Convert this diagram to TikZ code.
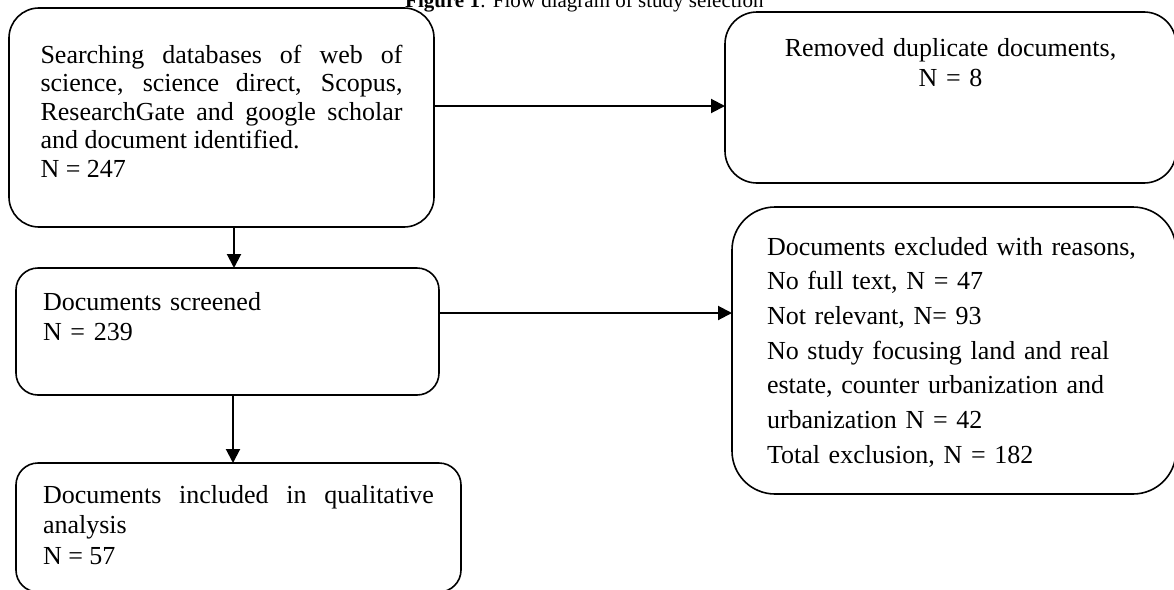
\documentclass[tikz,border=0pt]{standalone}
\usepackage{fontspec}
\setmainfont{Liberation Serif}
\usetikzlibrary{arrows.meta}
\newcommand{\boxfont}[1]{\fontsize{26}{#1}\selectfont\sloppy\hyphenpenalty=10000\relax}

\begin{document}
\begin{tikzpicture}[x=1pt, y=-1pt]
                \useasboundingbox (0,0) rectangle (1174,589);
                \node [anchor=base west, inner sep=0pt, font=\fontsize{21}{24}\selectfont] (T) at (405,7) {\textbf{Figure 1}: Flow diagram of study selection};
                \begin{scope}[every node/.style={draw, line width=1.6pt, anchor=north west, outer sep=0pt, inner ysep=0pt, font=\boxfont{30}}]
                        \node [rounded corners=30pt, inner xsep=31.5pt, text width=362pt, text height=55pt, text depth=164pt, align=justify, font=\boxfont{28.5}] (I) at (9,8) {Searching databases of web of science, science direct, Scopus, ResearchGate and google scholar and document identified.\\ N = 247};
                        \node [rounded corners=32pt, inner xsep=30pt, text width=391pt, text height=44pt, text depth=127pt, align=center] (D) at (725,12) {Removed duplicate documents,\\ N = 8};
                        \node [rounded corners=22pt, inner xsep=27pt, text width=369pt, text height=42pt, text depth=85pt, align=left] (S) at (16,268) {Documents screened\\ N = 239};
                        \node [rounded corners=43pt, inner xsep=35pt, text width=374pt, text height=48pt, text depth=239pt, align=left, font=\boxfont{34.7}] (X) at (732,207) {Documents excluded with reasons,\\ No full text, N = 47\\ Not relevant, N= 93\\ No study focusing land and real\\ estate, counter urbanization and\\ urbanization N = 42\\ Total exclusion, N = 182};
                        \node [rounded corners=22pt, inner xsep=27pt, text width=391pt, text height=40pt, text depth=89pt, align=justify, font=\boxfont{30.5}] (Q) at (16,463) {Documents included in qualitative analysis\\ N = 57};
                \end{scope}
                \begin{scope}[every path/.style={line width=2pt, -{Triangle[length=14pt,width=14pt]}}]
                        \path ([yshift=11.5pt]I.east) edge ([yshift=11.5pt]I.east -| D.west);
                        \path ([xshift=12.5pt]I.south) edge ([xshift=12.5pt]I.south |- S.north);
                        \path ([yshift=18.5pt]S.east) edge ([yshift=18.5pt]S.east -| X.west);
                        \path ([xshift=5.5pt]S.south) edge ([xshift=5.5pt]S.south |- Q.north);
                \end{scope}
\end{tikzpicture}
\end{document}
